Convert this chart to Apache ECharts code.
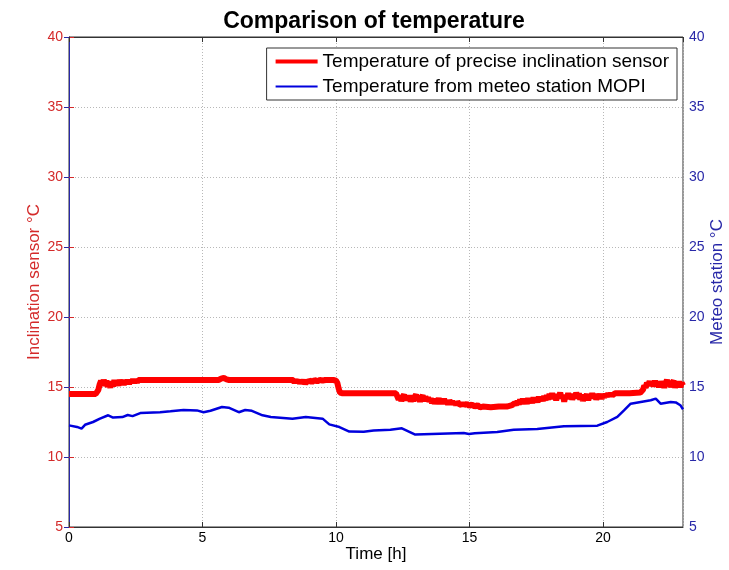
<!DOCTYPE html>
<html>
<head>
<meta charset="utf-8">
<script src="https://cdn.jsdelivr.net/npm/echarts@6/dist/echarts.min.js"></script>
<style>
  html, body { margin: 0; padding: 0; background: #fff; }
  #chart { width: 729px; height: 570px; }
</style>
</head>
<body>
<div id="chart"></div>
<script>
// Inclination sensor readings: [time (h), temperature (°C)]
const sensorReadings = [
  [0, 14.5], [0.5, 14.5], [1.0, 14.5], [1.05, 14.55],
  [1.10, 14.8], [1.15, 15.2], [1.20, 15.45], [1.25, 15.1], [1.30, 15.5], [1.35, 15.2], [1.40, 15.45], [1.45, 15.0],
  [1.50, 15.35], [1.55, 14.95], [1.60, 15.4], [1.65, 15.05], [1.70, 15.5], [1.75, 15.15], [1.80, 15.45], [1.85, 15.1],
  [1.90, 15.5], [1.95, 15.2], [2.00, 15.45], [2.05, 15.15], [2.10, 15.5], [2.15, 15.25], [2.20, 15.5], [2.25, 15.2],
  [2.30, 15.5], [2.35, 15.3], [2.40, 15.55], [2.45, 15.3], [2.50, 15.5], [2.55, 15.35], [2.60, 15.5],
  [3, 15.5], [4, 15.5], [5, 15.5], [5.6, 15.5], [5.7, 15.6], [5.8, 15.65], [5.9, 15.55], [6.0, 15.5], [7, 15.5], [8, 15.5], [8.4, 15.5],
  [8.45, 15.3], [8.5, 15.5], [8.55, 15.35], [8.6, 15.5], [8.65, 15.25], [8.7, 15.45], [8.75, 15.3], [8.8, 15.5], [8.85, 15.2],
  [8.9, 15.45], [8.95, 15.3], [9.0, 15.5], [9.1, 15.35], [9.2, 15.5], [9.3, 15.4], [9.4, 15.5], [9.5, 15.45], [9.6, 15.5],
  [9.9, 15.5], [10.0, 15.45], [10.05, 15.3], [10.1, 14.9], [10.15, 14.6], [10.25, 14.55], [11, 14.55], [12, 14.55], [12.25, 14.55],
  [12.30, 14.5], [12.35, 14.1], [12.40, 14.4], [12.45, 14.0], [12.50, 14.3], [12.55, 14.45], [12.60, 14.05], [12.65, 14.35],
  [12.70, 14.1], [12.75, 14.4], [12.80, 13.95], [12.85, 14.25], [12.90, 14.0], [12.95, 14.3], [13.00, 14.45], [13.05, 14.05],
  [13.10, 14.3], [13.15, 13.95], [13.20, 14.25], [13.25, 14.4], [13.30, 14.0], [13.35, 14.3], [13.40, 14.1], [13.45, 14.25], [13.50, 13.95],
  [13.55, 14.2], [13.60, 13.85], [13.65, 14.15], [13.70, 13.8], [13.75, 14.1], [13.80, 13.9], [13.85, 14.2], [13.90, 13.8],
  [13.95, 14.05], [14.00, 13.85], [14.05, 14.15], [14.10, 13.8], [14.15, 14.0], [14.20, 13.75], [14.25, 14.05], [14.30, 13.85],
  [14.35, 14.0], [14.40, 13.75], [14.45, 13.95], [14.50, 13.7], [14.55, 13.95], [14.60, 13.8], [14.65, 13.9], [14.70, 13.7],
  [14.75, 13.85], [14.80, 13.7],
  [14.9, 13.8], [15.0, 13.65], [15.1, 13.75], [15.2, 13.6], [15.3, 13.7], [15.4, 13.55],
  [15.5, 13.6], [15.8, 13.55], [16.1, 13.6], [16.4, 13.6], [16.6, 13.7],
  [16.70, 13.85], [16.75, 13.7], [16.80, 14.0], [16.85, 13.75], [16.90, 14.1], [16.95, 13.8], [17.00, 14.15], [17.05, 13.85],
  [17.10, 14.1], [17.15, 13.8], [17.20, 14.2], [17.25, 13.9], [17.30, 14.15], [17.35, 13.85], [17.40, 14.25], [17.45, 13.95],
  [17.50, 14.2], [17.55, 13.9], [17.60, 14.3], [17.65, 14.0], [17.70, 14.3], [17.75, 14.0], [17.80, 14.35], [17.85, 14.05],
  [17.90, 14.4], [17.95, 14.1], [18.00, 14.5], [18.05, 14.2], [18.10, 14.55], [18.15, 14.15], [18.20, 14.45], [18.25, 14.05],
  [18.30, 14.5], [18.35, 14.25], [18.40, 14.6], [18.45, 14.2], [18.50, 14.45], [18.55, 13.95], [18.60, 14.4], [18.65, 14.15],
  [18.70, 14.55], [18.75, 14.2], [18.80, 14.5], [18.85, 14.1], [18.90, 14.45], [18.95, 14.2], [19.00, 14.6], [19.05, 14.25],
  [19.10, 14.55], [19.15, 14.1], [19.20, 14.45], [19.25, 14.0], [19.30, 14.4], [19.35, 14.2], [19.40, 14.5], [19.45, 14.05],
  [19.50, 14.45], [19.55, 14.2], [19.60, 14.55], [19.65, 14.25], [19.70, 14.5], [19.75, 14.1], [19.80, 14.45], [19.85, 14.2],
  [19.90, 14.5], [19.95, 14.15], [20.00, 14.45], [20.05, 14.25], [20.10, 14.5], [20.15, 14.3], [20.20, 14.55], [20.25, 14.35],
  [20.30, 14.55], [20.35, 14.4],
  [20.45, 14.55], [20.6, 14.55], [21.0, 14.55], [21.4, 14.6],
  [21.50, 14.8], [21.55, 15.1], [21.60, 14.95], [21.65, 15.3], [21.70, 15.15], [21.75, 15.4],
  [21.80, 15.1], [21.85, 15.35], [21.90, 15.05], [21.95, 15.45], [22.00, 15.1], [22.05, 15.3], [22.10, 15.0], [22.15, 15.4],
  [22.20, 15.1], [22.25, 15.35], [22.30, 14.95], [22.35, 15.3], [22.40, 15.5], [22.45, 15.1], [22.50, 15.35], [22.55, 15.0],
  [22.60, 15.3], [22.65, 15.45], [22.70, 14.95], [22.75, 15.3], [22.80, 15.05], [22.85, 15.4], [22.90, 15.0], [22.95, 15.3], [23.00, 15.1]
];

// Meteo station MOPI readings: [time (h), temperature (°C)]
const meteoReadings = [
  [0, 12.26], [0.3, 12.15], [0.47, 12.03], [0.6, 12.3], [0.9, 12.5], [1.16, 12.74], [1.47, 12.98], [1.65, 12.82],
  [2.0, 12.85], [2.2, 13.0], [2.38, 12.92], [2.67, 13.14], [3.41, 13.2], [3.8, 13.26], [4.29, 13.36], [4.79, 13.33],
  [5.04, 13.2], [5.3, 13.3], [5.73, 13.57], [5.98, 13.52], [6.36, 13.2], [6.6, 13.36], [6.85, 13.3], [7.25, 12.98],
  [7.56, 12.86], [8.37, 12.74], [8.87, 12.86], [9.5, 12.74], [9.75, 12.33], [10.13, 12.14], [10.5, 11.82], [11.04, 11.8],
  [11.41, 11.9], [12.04, 11.95], [12.47, 12.05], [12.75, 11.8], [12.97, 11.6], [13.29, 11.63], [14.79, 11.71], [14.98, 11.65],
  [15.2, 11.7], [16.04, 11.79], [16.66, 11.95], [17.54, 12.0], [18.54, 12.19], [19.79, 12.24], [20.16, 12.5], [20.54, 12.86],
  [20.79, 13.33], [21.04, 13.81], [21.79, 14.05], [21.98, 14.17], [22.16, 13.81], [22.54, 13.93], [22.73, 13.9], [22.9, 13.7], [23, 13.4]
];

const xTicks = { min: 0, max: 23, interval: 5 };
const yTicks = { min: 5, max: 40, interval: 5 };

const seriesNames = ['Temperature of precise inclination sensor', 'Temperature from meteo station MOPI'];

const RED = '#ff0000', BLUE = '#0000dd';
const RED_TXT = '#d42a2a', BLUE_TXT = '#2828a8';
const FONT = 'Liberation Sans, Arial, sans-serif';

const gridLine = { show: true, lineStyle: { color: '#b8b8b8', type: [1, 2], width: 1 } };
// legend keys show only the line, no marker
const hiddenMarker = { color: 'rgba(0,0,0,0)', borderColor: 'rgba(0,0,0,0)', borderWidth: 0, opacity: 0 };

const chart = echarts.init(document.getElementById('chart'), null, { renderer: 'canvas' });
chart.setOption({
  animation: false,
  backgroundColor: '#fff',
  title: {
    text: 'Comparison of temperature',
    left: 369, top: 5, textAlign: 'center',
    textStyle: { fontFamily: FONT, fontSize: 23, fontWeight: 'bold', color: '#000' }
  },
  grid: {
    left: 69, right: 46, top: 37, bottom: 43,
    containLabel: false, outerBoundsMode: 'none',
    show: true, borderColor: '#333', borderWidth: 1
  },
  legend: {
    orient: 'vertical', right: 52, top: 48,
    backgroundColor: '#fff', borderColor: '#333', borderWidth: 1, borderRadius: 0,
    padding: [4, 8, 4, 7], itemGap: 6, itemWidth: 42, itemHeight: 14,
    textStyle: { fontFamily: FONT, fontSize: 19, color: '#000' },
    data: [
      { name: seriesNames[0], lineStyle: { width: 4, color: RED }, itemStyle: hiddenMarker },
      { name: seriesNames[1], lineStyle: { width: 2, color: BLUE }, itemStyle: hiddenMarker }
    ]
  },
  xAxis: [{
    type: 'value', min: xTicks.min, max: xTicks.max, interval: xTicks.interval,
    name: 'Time [h]', nameLocation: 'middle', nameGap: 19, nameMoveOverlap: false,
    nameTextStyle: { fontFamily: FONT, fontSize: 17, color: '#000' },
    axisLine: { show: true, lineStyle: { color: '#333' } },
    axisTick: { show: true, inside: true, length: 5, lineStyle: { color: '#333' } },
    axisLabel: { fontFamily: FONT, fontSize: 14, color: '#000', margin: 4, showMaxLabel: false },
    splitLine: gridLine
  }, {
    type: 'value', position: 'top', min: xTicks.min, max: xTicks.max, interval: xTicks.interval,
    axisLine: { show: true, lineStyle: { color: '#333' } },
    axisTick: { show: true, inside: true, length: 5, lineStyle: { color: '#333' } },
    axisLabel: { show: false }, splitLine: { show: false }
  }],
  yAxis: [{
    type: 'value', position: 'left', min: yTicks.min, max: yTicks.max, interval: yTicks.interval,
    name: 'Inclination sensor °C', nameLocation: 'middle', nameGap: 26, nameRotate: 90, nameMoveOverlap: false,
    nameTextStyle: { fontFamily: FONT, fontSize: 17, color: RED_TXT },
    axisLine: { show: true, lineStyle: { color: RED_TXT } },
    axisTick: { show: true, inside: true, length: 5, lineStyle: { color: RED_TXT } },
    axisLabel: { fontFamily: FONT, fontSize: 14, color: RED_TXT, margin: 6 },
    splitLine: gridLine
  }, {
    type: 'value', position: 'right', min: yTicks.min, max: yTicks.max, interval: yTicks.interval,
    name: 'Meteo station °C', nameLocation: 'middle', nameGap: 26, nameRotate: 90, nameMoveOverlap: false,
    nameTextStyle: { fontFamily: FONT, fontSize: 17, color: BLUE_TXT },
    axisLine: { show: true, lineStyle: { color: BLUE_TXT } },
    axisTick: { show: true, inside: true, length: 5, lineStyle: { color: BLUE_TXT } },
    axisLabel: { fontFamily: FONT, fontSize: 14, color: BLUE_TXT, margin: 6 },
    splitLine: { show: false }
  }],
  series: [{
    name: seriesNames[0], type: 'line', xAxisIndex: 0, yAxisIndex: 0,
    data: sensorReadings, showSymbol: false, symbol: 'none',
    lineStyle: { color: RED, width: 6 }, itemStyle: { color: RED }, z: 2
  }, {
    name: seriesNames[1], type: 'line', xAxisIndex: 0, yAxisIndex: 1,
    data: meteoReadings, showSymbol: false, symbol: 'none',
    lineStyle: { color: BLUE, width: 2.5 }, itemStyle: { color: BLUE }, z: 3
  }]
});
</script>
</body>
</html>
